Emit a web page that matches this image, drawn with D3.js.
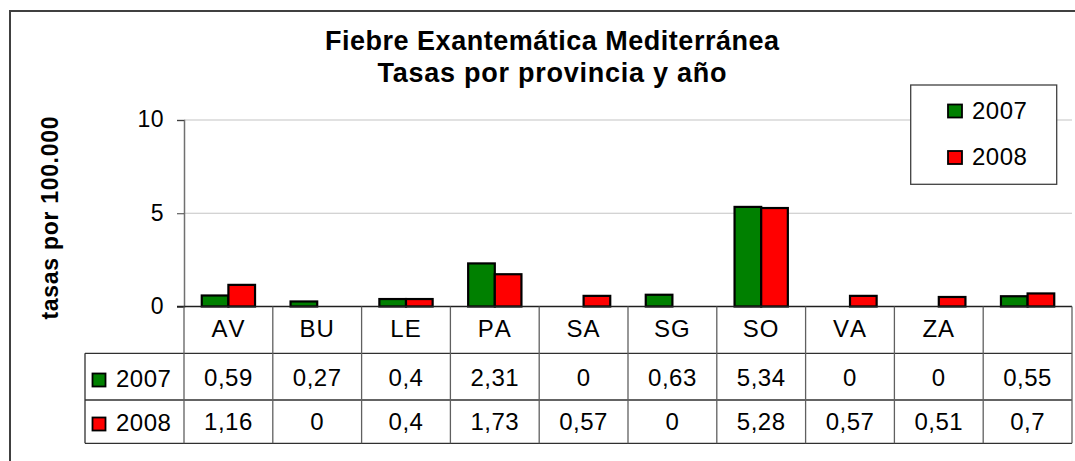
<!DOCTYPE html>
<html>
<head>
<meta charset="utf-8">
<script src="https://cdn.jsdelivr.net/npm/d3@7"></script>
<style>
  body { margin: 0; background: #fff; }
  svg text { font-family: "Liberation Sans", Arial, sans-serif; fill: #000; }
</style>
</head>
<body>
<div id="chart"></div>
<script>
// data
const provincias = ["AV", "BU", "LE", "PA", "SA", "SG", "SO", "VA", "ZA", ""];
const anios = ["2007", "2008"];
const tasas2007 = [0.59, 0.27, 0.4, 2.31, 0, 0.63, 5.34, 0, 0, 0.55];
const tasas2008 = [1.16, 0, 0.4, 1.73, 0.57, 0, 5.28, 0.57, 0.51, 0.7];
const yTicks = [0, 5, 10];
const titulo = ["Fiebre Exantemática Mediterránea", "Tasas por provincia y año"];
const yLabel = "tasas por 100.000";

const width = 1075, height = 461;
const colors = d3.scaleOrdinal().domain(anios).range(["#008000", "#ff0000"]);
const series = [tasas2007, tasas2008];

const svg = d3.select("#chart").append("svg")
  .attr("width", width)
  .attr("height", height);

// frame (cut off at right and bottom)
svg.append("path")
  .attr("d", "M10," + height + "V11H" + width)
  .attr("fill", "none")
  .attr("stroke", "#404040")
  .attr("stroke-width", 2);

const x = d3.scaleBand().domain(provincias).range([184, 1072]);
const x1 = d3.scaleBand().domain(anios).range([x.bandwidth() * 0.2, x.bandwidth() * 0.8]);
const y = d3.scaleLinear().domain([0, 10]).range([306.5, 120]);

// grid
svg.append("g")
  .selectAll("line")
  .data(yTicks.filter(d => d > 0))
  .enter()
  .append("line")
  .attr("x1", 184).attr("x2", 1072)
  .attr("y1", d => y(d)).attr("y2", d => y(d))
  .attr("stroke", "#c4c4c4")
  .attr("stroke-width", 1.2);

// title
svg.append("g")
  .selectAll("text")
  .data(titulo)
  .enter()
  .append("text")
  .attr("x", 552)
  .attr("y", (d, i) => 50 + i * 31.7)
  .attr("text-anchor", "middle")
  .attr("textLength", (d, i) => i == 0 ? 454 : 349)
  .attr("lengthAdjust", "spacing")
  .style("font-size", "27px")
  .style("font-weight", "bold")
  .text(d => d);

// y axis label
svg.append("text")
  .attr("transform", "translate(58,218) rotate(-90)")
  .attr("text-anchor", "middle")
  .attr("textLength", 203)
  .attr("lengthAdjust", "spacing")
  .style("font-size", "23px")
  .style("font-weight", "bold")
  .text(yLabel);

// y axis
const yAxis = svg.append("g")
  .attr("transform", "translate(184,0)")
  .call(d3.axisLeft(y).tickValues(yTicks).tickSize(7).tickPadding(13));
yAxis.select(".domain").attr("stroke", "#707070").attr("stroke-width", 1.5);
yAxis.selectAll(".tick line").attr("stroke", "#404040");
yAxis.selectAll(".tick text")
  .attr("dy", "0.3em")
  .style("font-size", "23px")
  .style("font-family", "Liberation Sans, Arial, sans-serif")
  .style("letter-spacing", "0.5px");

// bars
const grupos = svg.append("g")
  .selectAll("g")
  .data(anios)
  .enter()
  .append("g")
  .attr("fill", d => colors(d));

grupos.selectAll("rect")
  .data((d, i) => provincias.map((p, j) => ({ p: p, v: series[i][j], anio: d })).filter(e => e.v > 0))
  .enter()
  .append("rect")
  .attr("x", d => x(d.p) + x1(d.anio))
  .attr("width", x1.bandwidth())
  .attr("y", d => y(d.v))
  .attr("height", d => y(0) - y(d.v))
  .attr("stroke", "#000")
  .attr("stroke-width", 2.2);

// x axis line
svg.append("line")
  .attr("x1", 177).attr("x2", 1072)
  .attr("y1", y(0)).attr("y2", y(0))
  .attr("stroke", "#202020")
  .attr("stroke-width", 1.5);

// data table
const rowY = [306.5, 353.3, 400, 443.3];
const tabla = svg.append("g").attr("stroke", "#303030").attr("stroke-width", 1.3);
tabla.selectAll("line.h")
  .data(rowY.slice(1))
  .enter()
  .append("line")
  .attr("x1", 85).attr("x2", 1072)
  .attr("y1", d => d).attr("y2", d => d);
tabla.selectAll("line.v")
  .data(provincias.map(p => x(p) + x.bandwidth()).concat([184]))
  .enter()
  .append("line")
  .attr("x1", d => d).attr("x2", d => d)
  .attr("y1", rowY[0]).attr("y2", rowY[3])
  .attr("stroke", "#606060");
tabla.append("line")
  .attr("x1", 85).attr("x2", 85)
  .attr("y1", rowY[1]).attr("y2", rowY[3]);

const fmt = d3.formatLocale({ decimal: ",", thousands: ".", grouping: [3], currency: ["", "€"] }).format(".3~r");

svg.append("g")
  .selectAll("text")
  .data(provincias)
  .enter()
  .append("text")
  .attr("x", d => x(d) + x.bandwidth() / 2)
  .attr("y", 337)
  .attr("text-anchor", "middle")
  .style("font-size", "24px")
  .style("letter-spacing", "1px")
  .style("font-kerning", "none")
  .text(d => d);

const baseY = [386, 430];
anios.forEach((a, i) => {
  svg.append("g")
    .selectAll("text")
    .data(series[i])
    .enter()
    .append("text")
    .attr("x", (d, j) => x(provincias[j]) + x.bandwidth() / 2)
    .attr("y", baseY[i])
    .attr("text-anchor", "middle")
    .style("font-size", "24px")
    .style("letter-spacing", "0.5px")
    .text(d => fmt(d));

  svg.append("rect")
    .attr("x", 92.5).attr("y", baseY[i] - 12.5)
    .attr("width", 13).attr("height", 13)
    .attr("fill", colors(a))
    .attr("stroke", "#000")
    .attr("stroke-width", 1.8);
  svg.append("text")
    .attr("x", 116).attr("y", baseY[i] + 0.5)
    .style("font-size", "24px")
    .style("letter-spacing", "0.5px")
    .text(a);
});

// legend
const legend = svg.append("g");
legend.append("rect")
  .attr("x", 910.7).attr("y", 85)
  .attr("width", 146).attr("height", 99.3)
  .attr("fill", "#fff")
  .attr("stroke", "#404040")
  .attr("stroke-width", 1.3);
const items = legend.selectAll("g")
  .data(anios)
  .enter()
  .append("g")
  .attr("transform", (d, i) => "translate(948," + (111 + i * 46.5) + ")");
items.append("rect")
  .attr("x", 0).attr("y", -6.5)
  .attr("width", 14).attr("height", 13)
  .attr("fill", d => colors(d))
  .attr("stroke", "#000")
  .attr("stroke-width", 1.8);
items.append("text")
  .attr("x", 24).attr("y", 7.5)
  .style("font-size", "24px")
  .style("letter-spacing", "0.5px")
  .text(d => d);
</script>
</body>
</html>
